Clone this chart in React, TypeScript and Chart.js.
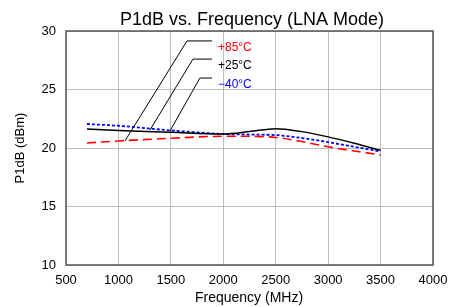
import React, { useEffect, useRef } from "react";
import { Chart, registerables } from "chart.js";

Chart.register(...registerables);

const freq = [700, 1000, 1500, 2000, 2250, 2500, 2750, 3000, 3250, 3500];
const p85 = [20.43, 20.6, 20.83, 21.0, 21.0, 20.9, 20.55, 20.1, 19.75, 19.4];
const p25 = [21.62, 21.5, 21.35, 21.2, 21.4, 21.65, 21.4, 20.95, 20.4, 19.8];
const m40 = [22.05, 21.9, 21.5, 21.2, 21.15, 21.1, 20.85, 20.5, 20.1, 19.7];

const seriesLabels = ["+85°C", "+25°C", "\u221240°C"];
const seriesColors = ["#ff0000", "#000000", "#0000ff"];
const leaderTopY = [29.15, 27.6, 25.98];
const leaderElbowX = [1654, 1711, 1777];
const leaderEndX = [1892, 1892, 1892];
const leaderPointX = [1062, 1301, 1491];
const leaderPointY = [20.6, 21.54, 21.45];

const xTicks = [500, 1000, 1500, 2000, 2500, 3000, 3500, 4000];
const yTicks = [10, 15, 20, 25, 30];

const FONT = "'Liberation Sans', Arial, sans-serif";

export default function App() {
  const ref = useRef<HTMLCanvasElement | null>(null);
  useEffect(() => {
    document.body.style.margin = "0";
    const ctx = ref.current!.getContext("2d")!;
    const overlay = {
      id: "overlay",
      afterDatasetsDraw(chart: any) {
        const c = chart.ctx;
        const xs = chart.scales.x;
        const ys = chart.scales.y;
        const a = chart.chartArea;
        c.save();
        c.strokeStyle = "#555";
        c.lineWidth = 1.5;
        c.strokeRect(a.left, a.top, a.right - a.left, a.bottom - a.top);
        c.lineWidth = 1;
        c.strokeStyle = "#000";
        for (let i = 0; i < 3; i++) {
          c.beginPath();
          c.moveTo(xs.getPixelForValue(leaderPointX[i]), ys.getPixelForValue(leaderPointY[i]));
          c.lineTo(xs.getPixelForValue(leaderElbowX[i]), ys.getPixelForValue(leaderTopY[i]));
          c.lineTo(xs.getPixelForValue(leaderEndX[i]), ys.getPixelForValue(leaderTopY[i]));
          c.stroke();
          c.fillStyle = seriesColors[i];
          c.font = `12px ${FONT}`;
          c.textAlign = "left";
          c.textBaseline = "middle";
          c.fillText(
            seriesLabels[i],
            xs.getPixelForValue(leaderEndX[i]) + 6,
            ys.getPixelForValue(leaderTopY[i]) + 7
          );
        }
        c.fillStyle = "#000";
        c.textAlign = "center";
        c.textBaseline = "middle";
        c.font = `18px ${FONT}`;
        c.fillText("P1dB vs. Frequency (LNA Mode)", 252, 20);
        c.font = `14px ${FONT}`;
        c.fillText("Frequency (MHz)", 249, 298);
        c.save();
        c.translate(20, (a.top + a.bottom) / 2);
        c.rotate(-Math.PI / 2);
        c.font = `13px ${FONT}`;
        c.fillText("P1dB (dBm)", 0, 0);
        c.restore();
        c.restore();
      },
    };
    const mk = (d: number[]) => freq.map((f, i) => ({ x: f, y: d[i] }));
    const chart = new Chart(ctx, {
      type: "line",
      data: {
        datasets: [
          {
            label: seriesLabels[0],
            data: mk(p85),
            borderColor: seriesColors[0],
            borderWidth: 1.6,
            borderDash: [9, 5],
            pointRadius: 0,
            cubicInterpolationMode: "monotone",
            fill: false,
          },
          {
            label: seriesLabels[1],
            data: mk(p25),
            borderColor: seriesColors[1],
            borderWidth: 1.5,
            pointRadius: 0,
            cubicInterpolationMode: "monotone",
            fill: false,
          },
          {
            label: seriesLabels[2],
            data: mk(m40),
            borderColor: seriesColors[2],
            borderWidth: 1.8,
            borderDash: [3, 2],
            pointRadius: 0,
            cubicInterpolationMode: "monotone",
            fill: false,
          },
        ],
      },
      plugins: [overlay],
      options: {
        animation: false,
        responsive: false,
        layout: { padding: { top: 31, right: 28, left: 0, bottom: 0 } },
        plugins: { legend: { display: false }, title: { display: false }, tooltip: { enabled: false } },
        scales: {
          x: {
            type: "linear",
            min: 500,
            max: 4000,
            afterBuildTicks: (s: any) => {
              s.ticks = xTicks.map((v) => ({ value: v }));
            },
            afterFit: (s: any) => {
              s.height = 42;
            },
            grid: { color: "#bdbdbd", lineWidth: 1, drawTicks: false },
            border: { display: false },
            ticks: {
              color: "#000",
              font: { family: FONT, size: 13 },
              padding: 8,
              maxRotation: 0,
              callback: (v: any) => String(v),
            },
          },
          y: {
            type: "linear",
            min: 10,
            max: 30,
            afterBuildTicks: (s: any) => {
              s.ticks = yTicks.map((v) => ({ value: v }));
            },
            afterFit: (s: any) => {
              s.width = 66;
            },
            grid: { color: "#bdbdbd", lineWidth: 1, drawTicks: false },
            border: { display: false },
            ticks: { color: "#000", font: { family: FONT, size: 13 }, padding: 10, callback: (v: any) => String(v) },
          },
        },
      },
    } as any);
    return () => chart.destroy();
  }, []);
  return (
    <div style={{ position: "absolute", left: 0, top: 0, width: 461, height: 307, background: "#fff" }}>
      <canvas ref={ref} width={461} height={307} style={{ width: 461, height: 307 }} />
    </div>
  );
}
